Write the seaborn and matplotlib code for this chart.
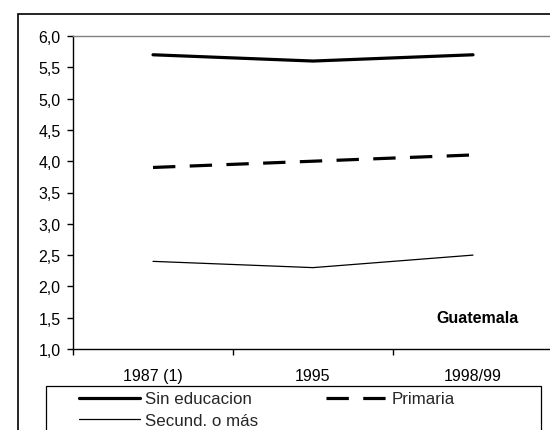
import matplotlib
matplotlib.use("Agg")
import matplotlib.pyplot as plt
from matplotlib.patches import Rectangle
from matplotlib.ticker import FuncFormatter, FixedLocator
import seaborn as sns
import pandas as pd

categories = ["1987 (1)", "1995", "1998/99"]
sin_educacion = [5.7, 5.6, 5.7]
primaria = [3.9, 4.0, 4.1]
secundaria = [2.4, 2.3, 2.5]
series_labels = ["Sin educacion", "Primaria", "Secund. o más"]
country = "Guatemala"

sns.set_theme(style="white")
plt.rcParams["font.family"] = ["Liberation Sans", "DejaVu Sans"]
FS = 11.5
LFS = 12.2

W, H = 550, 431
fig = plt.figure(figsize=(W / 100, H / 100), dpi=100)
ax = fig.add_axes([73 / W, 1 - 350 / H, 480 / W, 313 / H])

df = pd.DataFrame({"cat": categories, "sin": sin_educacion, "pri": primaria, "sec": secundaria})
sns.lineplot(data=df, x="cat", y="sin", ax=ax, color="black", linewidth=2.3,
             sort=False, label=series_labels[0])
sns.lineplot(data=df, x="cat", y="pri", ax=ax, color="black", linewidth=2.3,
             sort=False, label=series_labels[1], linestyle=(0, (7, 4.5)))
sns.lineplot(data=df, x="cat", y="sec", ax=ax, color="black", linewidth=0.9,
             sort=False, label=series_labels[2])

ax.set_xlim(-0.5, len(categories) - 0.5)
ax.set_ylim(1.0, 6.0)
ax.set_yticks([1.0 + 0.5 * i for i in range(11)])
ax.yaxis.set_major_formatter(FuncFormatter(lambda v, p: f"{v:.1f}".replace(".", ",")))
ax.set_xticks(range(len(categories)))
ax.set_xticklabels(categories)
ax.xaxis.set_minor_locator(FixedLocator([i - 0.5 for i in range(len(categories) + 1)]))
ax.tick_params(axis="x", which="major", length=0, pad=14, labelsize=FS, colors="black")
ax.tick_params(axis="x", which="minor", bottom=True, length=4, width=1, color="black", direction="out")
ax.tick_params(axis="y", which="major", left=True, length=4, width=1, color="black",
               direction="out", pad=5, labelsize=FS, labelcolor="black")
ax.set_xlabel("")
ax.set_ylabel("")

for s in ["left", "bottom"]:
    ax.spines[s].set_color("black")
    ax.spines[s].set_linewidth(1.0)
ax.spines["top"].set_color("#808080")
ax.spines["top"].set_linewidth(1.0)
ax.spines["right"].set_visible(False)
ax.grid(False)

ax.text(2.03, 1.51, country, ha="center", va="center", fontsize=FS, fontweight="bold", color="black")

handles, labels = ax.get_legend_handles_labels()
ax.legend_.remove()
order = [0, 2, 1]  # column-wise fill: row 1 = Sin, Primaria; row 2 = Secund.
fig.legend([handles[i] for i in order], [labels[i] for i in order], loc="upper left",
           bbox_to_anchor=(79 / W, 1 - 392.5 / H),
           ncol=2, frameon=False, fontsize=LFS, handlelength=3.6, handletextpad=0.3,
           columnspacing=4.0, borderpad=0, borderaxespad=0, labelspacing=0.38)

fig.patches.append(Rectangle((46 / W, -20 / H), 495 / W, (431 + 20 - 387) / H,
                             transform=fig.transFigure, fill=False, edgecolor="black",
                             linewidth=0.9, clip_on=False))
fig.patches.append(Rectangle((18 / W, -20 / H), 600 / W, (431 + 20 - 15) / H,
                             transform=fig.transFigure, fill=False, edgecolor="black",
                             linewidth=1.2, clip_on=False))

fig.savefig("out.png", dpi=100)
